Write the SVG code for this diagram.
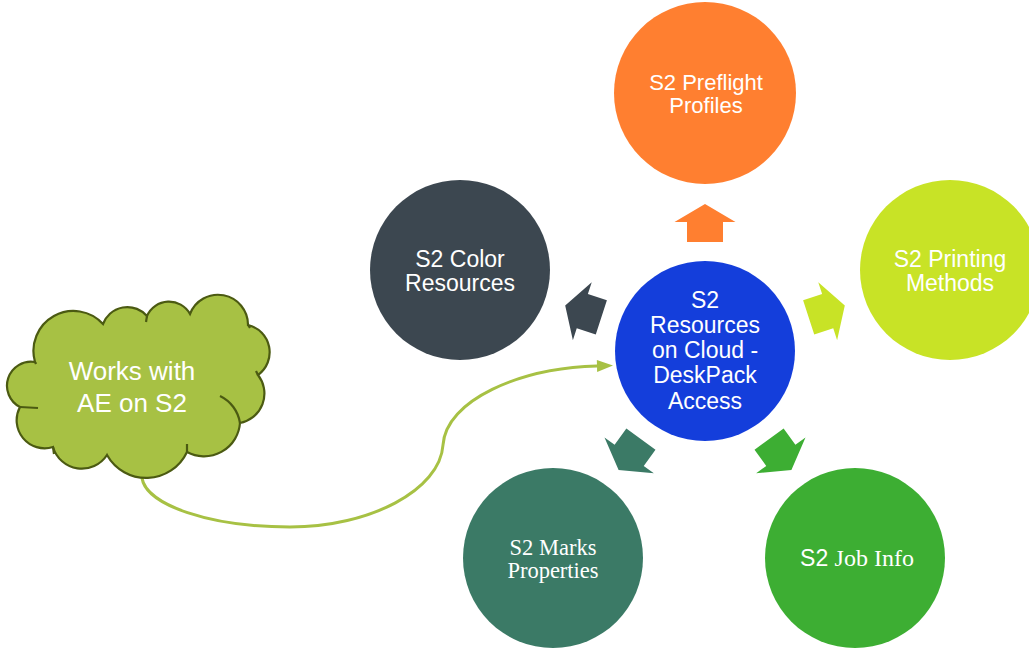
<svg xmlns="http://www.w3.org/2000/svg" width="1029" height="650" viewBox="0 0 1029 650">
<defs>
<style>
.t{font-family:"Liberation Sans",Arial,sans-serif;font-size:23px;fill:#fff;text-anchor:middle}
.s{font-family:"Liberation Serif","Times New Roman",serif}
.cl{fill:#A7C144;stroke:#4B5A12;stroke-width:2.2}
.tick{fill:none;stroke:#4B5A12;stroke-width:2.2}
.conn{fill:none;stroke:#A7C144;stroke-width:3}
</style>
<marker id="ah" markerUnits="userSpaceOnUse" markerWidth="18" markerHeight="13" refX="0" refY="6" orient="auto" overflow="visible">
<path d="M0,0 L16,6 L0,12 z" fill="#A7C144"/>
</marker>
<polygon id="ar" points="-18,-109 18,-109 18,-129 30.5,-129 0,-147 -30.5,-129 -18,-129"/>
</defs>
<rect width="1029" height="650" fill="#fff"/>

<g id="connectors">
<path class="conn" d="M142,478 C146,505 210,527 290,527 C370,527 440,490 443,445 C446,400 520,368 597,366" marker-end="url(#ah)"/>
<g transform="translate(705,351)">
<use href="#ar" fill="#FF7F30"/>
<use href="#ar" fill="#C8E326" transform="rotate(72)"/>
<use href="#ar" fill="#3DAE33" transform="rotate(144)"/>
<use href="#ar" fill="#3B7A66" transform="rotate(216)"/>
<use href="#ar" fill="#3C4750" transform="rotate(288)"/>
</g>
</g>

<g id="center">
<circle cx="705" cy="351" r="90" fill="#143EDB"/>
<text class="t"><tspan x="705" y="308">S2</tspan><tspan x="705" y="333">Resources</tspan><tspan x="705" y="358">on Cloud -</tspan><tspan x="705" y="383">DeskPack</tspan><tspan x="705" y="409">Access</tspan></text>
</g>

<g id="preflight">
<circle cx="705" cy="93" r="91" fill="#FF7F30"/>
<text class="t" style="font-size:22px"><tspan x="706" y="90">S2 Preflight</tspan><tspan x="706" y="113">Profiles</tspan></text>
</g>

<g id="color">
<circle cx="460" cy="270" r="90" fill="#3C4750"/>
<text class="t"><tspan x="460" y="267">S2 Color</tspan><tspan x="460" y="291">Resources</tspan></text>
</g>

<g id="printing">
<circle cx="950" cy="270" r="90" fill="#C8E326"/>
<text class="t"><tspan x="950" y="267">S2 Printing</tspan><tspan x="950" y="291">Methods</tspan></text>
</g>

<g id="marks">
<circle cx="553" cy="558" r="90" fill="#3B7A66"/>
<text class="t s" style="font-size:22.5px"><tspan x="553" y="555">S2 Marks</tspan><tspan x="553" y="578">Properties</tspan></text>
</g>

<g id="jobinfo">
<circle cx="855" cy="558" r="90" fill="#3DAE33"/>
<text class="t" x="857" y="566">S2 <tspan class="s" style="font-size:24px">Job Info</tspan></text>
</g>

<g id="cloud">
<path class="cl" d="M35,362 A40,40 0 0 1 103,324 A26,26 0 0 1 147,316 A24,24 0 0 1 190,314 A30,30 0 0 1 248,325 A28,28 0 0 1 258,375 A30,30 0 0 1 240,423 A36,36 0 0 1 187,452 A45,45 0 0 1 107,455 A30,30 0 0 1 53,447 A28,28 0 0 1 20,407 A24,24 0 0 1 35,362 Z"/>
<path class="tick" d="M220,396 A36,36 0 0 1 240,423"/>
<path class="tick" d="M187,452 L187,444"/>
<path class="tick" d="M53,447 L54,454"/>
<path class="tick" d="M20,407 L38,408"/>
<path class="tick" d="M35,362 L36,364"/>
<path class="tick" d="M248,325 L250,328"/>
<path class="tick" d="M258,375 L256,371"/>
<path class="tick" d="M147,316 L146,322"/>
<text class="t" style="font-size:26px"><tspan x="132" y="380">Works with</tspan><tspan x="132" y="412">AE on S2</tspan></text>
</g>
</svg>
